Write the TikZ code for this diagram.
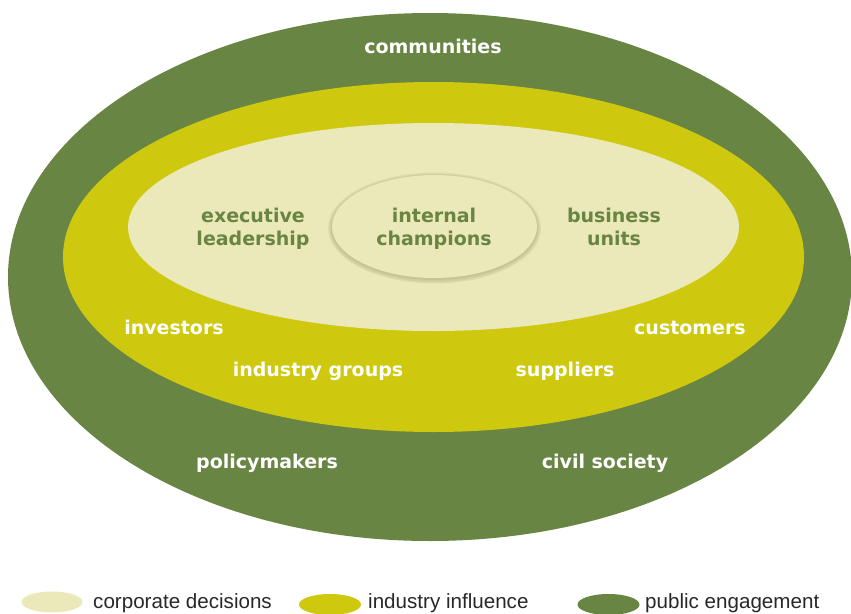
\documentclass[tikz,border=0pt]{standalone}
\usepackage{fontspec}
\setmainfont{DejaVu Sans}
\newfontfamily\legfont{Liberation Sans}
\usetikzlibrary{shapes.geometric}
\definecolor{pubgreen}{RGB}{104,133,67}
\definecolor{indyellow}{RGB}{206,201,15}
\definecolor{corplight}{RGB}{235,232,185}
\definecolor{legtext}{RGB}{40,40,40}
\begin{document}
\begin{tikzpicture}[x=1pt,y=-1pt,
  ring/.style={ellipse, inner sep=0pt, draw=none},
  shade/.style={ring, fill=black!60!pubgreen, fill opacity=0.07},
  lab/.style={font=\bfseries\fontsize{19}{23}\selectfont, text=white, anchor=base, inner sep=0pt},
  inlab/.style={lab, text=pubgreen, align=center},
  leg/.style={font=\legfont\fontsize{20.6}{24}\selectfont, anchor=base west, inner sep=0pt, text=legtext}]
\useasboundingbox (0,0) rectangle (851,613);
\clip (0,0) rectangle (851,613);
% rings
\node[ring, fill=pubgreen, minimum width=844pt, minimum height=528pt] (public) at (430,277) {};
\node[ring, fill=indyellow, minimum width=741pt, minimum height=350pt] (industry) at (433.5,257) {};
\node[ring, fill=corplight, minimum width=611pt, minimum height=208pt] (corporate) at (433.5,227) {};
% soft shadow under the centre ellipse
\node[shade, minimum width=213pt, minimum height=111pt] (sh1) at (434.5,228) {};
\node[shade, minimum width=210pt, minimum height=108pt] (sh2) at (434.5,228) {};
\node[shade, minimum width=207pt, minimum height=105pt] (sh3) at (434.5,227.5) {};
\node[ring, fill=corplight, minimum width=205pt, minimum height=103pt] (champ) at (434.5,226.5) {};
% labels
\node[lab] (communities) at (433,53) {communities};
\node[inlab] (exec) at (253,245) {executive\\leadership};
\node[inlab] (internal) at (434,245) {internal\\champions};
\node[inlab] (units) at (614,245) {business\\units};
\node[lab] (investors) at (174,334) {investors};
\node[lab] (customers) at (690,334) {customers};
\node[lab] (groups) at (318,376) {industry groups};
\node[lab] (suppliers) at (565,376) {suppliers};
\node[lab] (policy) at (267,468) {policymakers};
\node[lab] (civil) at (605,468) {civil society};
% legend
\node[ring, fill=corplight, minimum width=61pt, minimum height=21pt] (legcorp) at (52,602) {};
\node[leg] (legcorptxt) at (93,608) {corporate decisions};
\node[ring, fill=indyellow, minimum width=62pt, minimum height=21pt] (legind) at (330,604.5) {};
\node[leg] (legindtxt) at (368,608) {industry influence};
\node[ring, fill=pubgreen, minimum width=62pt, minimum height=21pt] (legpub) at (608.5,604.5) {};
\node[leg] (legpubtxt) at (645,608) {public engagement};
\end{tikzpicture}
\end{document}
